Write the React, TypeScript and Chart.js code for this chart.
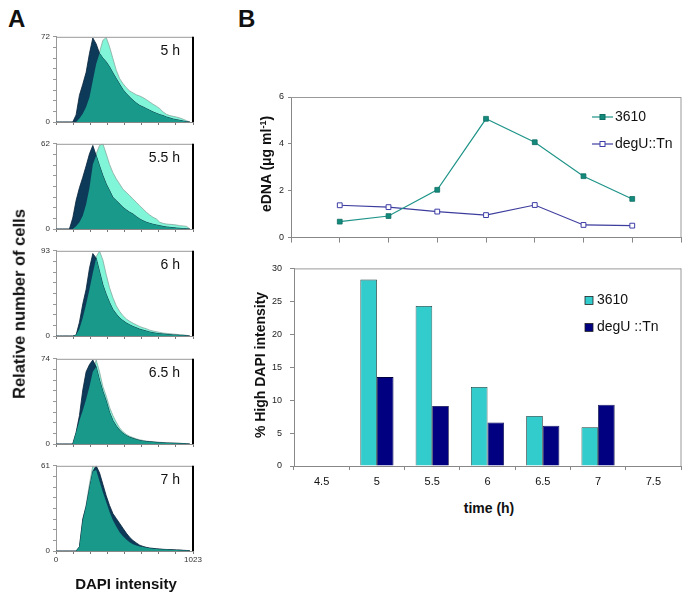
import React, { useEffect, useRef } from "react";
import { Chart, registerables } from "chart.js";

Chart.register(...registerables);

const FONT = "'Liberation Sans', Arial, Helvetica, sans-serif";
Chart.defaults.font.family = FONT;

// ---------- Panel A: DAPI histograms ----------
const dapiBins = [
  0, 25, 50, 75, 100, 125, 150, 175, 200, 225, 250, 275, 300, 325, 350, 375, 400, 425, 450, 475,
  500, 525, 550, 575, 600, 625, 650, 675, 700, 725, 750, 775, 800, 825, 850, 875, 900, 925, 950, 975, 1000,
];
const dapiTicks = [0, 128, 256, 384, 512, 640, 768, 896, 1023];
const histTimes = ["5 h", "5.5 h", "6 h", "6.5 h", "7 h"];
const histMax = [72, 62, 93, 74, 61];

const dark5 = [0, 0, 0, 0, 0, 0, 6, 22.6, 32, 42, 58, 71, 66, 58, 54, 50.8, 46.6, 41.5, 36.7, 32, 27.4, 24, 21, 18.4, 16, 14, 12.7, 11.3, 9.9, 8.5, 7.3, 6.2, 5.4, 4.2, 3.4, 2.5, 2, 1.4, 0.8, 0.3, 0];
const light5 = [0, 0, 0, 0, 0, 0, 0, 3, 7, 12.7, 21, 35, 49, 59, 69, 71.5, 63.5, 53.6, 43.8, 36.7, 32.5, 29, 26.3, 24.6, 23, 22, 20.6, 18.9, 17, 15, 13.3, 11.3, 8.5, 6.5, 5.4, 4.8, 4.2, 3.4, 2.3, 1.1, 0];

const dark55 = [0, 0, 0, 0, 0, 8, 20.7, 30, 37.7, 46, 54.7, 60.8, 53.5, 46, 39, 32.8, 28, 23, 20.7, 18.2, 15.8, 13.9, 12.2, 10.9, 9, 7.3, 6, 4.9, 4.1, 3.4, 2.9, 2.4, 1.9, 1.5, 1.2, 1, 0.7, 0.5, 0.3, 0.2, 0];
const light55 = [0, 0, 0, 0, 0, 0, 2, 4.9, 9.7, 18, 30, 47, 54.7, 60.8, 62, 54.7, 47, 41, 36.5, 32.8, 29, 26.7, 24.3, 21.9, 19.4, 17, 14.6, 12.2, 10.2, 8.5, 7.3, 4.9, 4.1, 3.6, 3.4, 3.2, 2.9, 2.4, 2.2, 1.9, 0];

const dark6 = [0, 0, 0, 0, 0, 0, 1, 15, 35, 51, 74, 90, 85, 70.5, 56, 45.5, 36.5, 29, 24, 19.7, 16.8, 14.3, 12.2, 10.4, 9, 7.5, 6.4, 5.4, 4.3, 3.6, 2.9, 2.5, 2.1, 1.8, 1.4, 1.1, 1.1, 0.7, 0.7, 0.4, 0];
const light6 = [0, 0, 0, 0, 0, 0, 1, 7.9, 20, 34.7, 51, 68.7, 86.6, 92.7, 83, 67, 52.6, 41.9, 33, 26.9, 22.2, 18.6, 16.1, 14, 12.2, 10.4, 9, 7.9, 6.4, 5.4, 4.7, 3.9, 3.2, 2.9, 2.5, 2.1, 1.8, 1.4, 1.1, 0.7, 0];

const dark65 = [0, 0, 0, 0, 0, 0, 10, 24.7, 47, 62.7, 69, 73, 67, 55.6, 45.8, 37.4, 27.5, 20.5, 15.7, 12, 9.3, 7.3, 5.9, 4.8, 3.9, 3.1, 2.5, 2.2, 2, 1.7, 1.4, 1.2, 1, 0.9, 0.8, 0.7, 0.6, 0.5, 0.4, 0.2, 0];
const light65 = [0, 0, 0, 0, 0, 0, 10, 20.5, 29, 38.8, 50, 62.7, 73, 62.7, 50, 41.6, 31.8, 24.7, 19, 14, 10.7, 8.4, 6.7, 5.6, 4.5, 3.7, 3.1, 2.5, 2.2, 2, 1.7, 1.5, 1.3, 1.1, 1, 0.9, 0.8, 0.6, 0.5, 0.3, 0];

const dark7 = [0, 0, 0, 0, 0, 0, 0, 3, 23, 32, 45, 57, 61, 56, 47.8, 39.6, 32.6, 26.8, 23.3, 19.8, 16.3, 12.8, 9.8, 7.5, 5.8, 4.2, 3.3, 2.6, 2.1, 1.9, 1.6, 1.4, 1.2, 1.1, 1, 0.9, 0.8, 0.7, 0.5, 0.4, 0.2];
const light7 = [0, 0, 0, 0, 0, 0, 0, 3, 22, 33, 48, 61, 58, 50, 42, 35, 28, 22, 17.5, 13.5, 10.5, 8.2, 6.3, 4.9, 4, 3.3, 2.8, 2.3, 2, 1.7, 1.5, 1.3, 1.1, 1, 0.9, 0.8, 0.7, 0.6, 0.4, 0.3, 0];

const histDark = [dark5, dark55, dark6, dark65, dark7];
const histLight = [light5, light55, light6, light65, light7];

// ---------- Panel B ----------
const timeCats = ["4.5", "5", "5.5", "6", "6.5", "7", "7.5"];
const timeVals = [4.5, 5, 5.5, 6, 6.5, 7, 7.5];
const seriesNames = ["3610", "degU::Tn"];
const barNames = ["3610", "degU ::Tn"];
const edna3610 = [0.68, 0.92, 2.04, 5.07, 4.07, 2.62, 1.65];
const ednaDegU = [1.38, 1.3, 1.11, 0.96, 1.39, 0.54, 0.51];
const high3610 = [null, 28.3, 24.3, 12.0, 7.6, 5.9, null];
const highDegU = [null, 13.5, 9.1, 6.6, 6.1, 9.3, null];

// ---------- layout constants ----------
const PANEL_TOPS = [35, 142, 249, 357, 464];
const PANEL_H = 87;

const NAVY = "#0e3a5a";
const TEAL = "#18998a";
const AQUA = "#80f5d8";

const framePlugin = (topColor: string, rightColor: string, rightWidth: number) => ({
  id: "frame",
  afterDatasetsDraw(chart: any) {
    const { ctx, chartArea: a } = chart;
    ctx.save();
    ctx.strokeStyle = topColor;
    ctx.lineWidth = 1;
    ctx.beginPath();
    ctx.moveTo(a.left, a.top + 0.5);
    ctx.lineTo(a.right, a.top + 0.5);
    ctx.stroke();
    ctx.strokeStyle = rightColor;
    ctx.lineWidth = rightWidth;
    ctx.beginPath();
    ctx.moveTo(a.right, a.top);
    ctx.lineTo(a.right, a.bottom);
    ctx.stroke();
    ctx.restore();
  },
});

function histConfig(i: number): any {
  const dark = histDark[i];
  const light = histLight[i];
  const both = light.map((v, j) => Math.min(v, dark[j]));
  const pts = (arr: number[]) => dapiBins.map((x, j) => ({ x, y: arr[j] }));
  const max = histMax[i];
  const last = i === histDark.length - 1;
  const common = { fill: "origin", pointRadius: 0, tension: 0 };
  return {
    type: "line",
    data: {
      datasets: [
        { ...common, data: pts(both), backgroundColor: TEAL, borderColor: TEAL, borderWidth: 0, order: 1 },
        { ...common, data: pts(dark), backgroundColor: NAVY, borderColor: "#08233a", borderWidth: 0.8, order: 2 },
        { ...common, data: pts(light), backgroundColor: AQUA, borderColor: "#8aa8a0", borderWidth: 0.8, order: 3 },
      ],
    },
    options: {
      responsive: false,
      animation: false,
      events: [],
      layout: { padding: { top: 6, right: 12, left: 0, bottom: 0 } },
      plugins: { legend: { display: false }, tooltip: { enabled: false } },
      scales: {
        x: {
          type: "linear",
          min: 0,
          max: 1023,
          afterBuildTicks: (s: any) => {
            s.ticks = dapiTicks.map((v) => ({ value: v }));
          },
          ticks: {
            display: last,
            autoSkip: false,
            maxRotation: 0,
            font: { size: 8 },
            color: "#333",
            padding: 1,
            callback: (v: number) => (v === 0 || v === 1023 ? String(v) : ""),
          },
          grid: { drawOnChartArea: false, tickLength: 3, color: "#777" },
          border: { color: "#888" },
          afterFit: (s: any) => {
            s.height = 18;
          },
        },
        y: {
          min: 0,
          max,
          afterBuildTicks: (s: any) => {
            s.ticks = [0, 1, 2, 3, 4, 5, 6, 7, 8].map((k) => ({ value: (max * k) / 8 }));
          },
          ticks: {
            autoSkip: false,
            font: { size: 8 },
            color: "#333",
            padding: 3,
            callback: (v: number, idx: number) => (idx === 0 || idx === 8 ? String(Math.round(v)) : ""),
          },
          grid: { drawOnChartArea: false, tickLength: 3, color: "#999" },
          border: { color: "#999" },
          afterFit: (s: any) => {
            s.width = 30;
          },
        },
      },
    },
    plugins: [framePlugin("#999", "#000", 2)],
  };
}

const lineLegendPlugin = {
  id: "lineLegend",
  afterDraw(chart: any) {
    const { ctx, chartArea: a } = chart;
    ctx.save();
    chart.data.datasets.forEach((ds: any, i: number) => {
      const y = a.top + 20 + i * 27;
      const x0 = a.right - 89;
      ctx.strokeStyle = ds.borderColor;
      ctx.lineWidth = 1.2;
      ctx.beginPath();
      ctx.moveTo(x0, y);
      ctx.lineTo(x0 + 21, y);
      ctx.stroke();
      ctx.fillStyle = ds.pointBackgroundColor;
      ctx.strokeStyle = ds.pointBorderColor;
      ctx.lineWidth = 1;
      ctx.fillRect(x0 + 8, y - 2.5, 5, 5);
      ctx.strokeRect(x0 + 8, y - 2.5, 5, 5);
      ctx.fillStyle = "#111";
      ctx.font = `14px ${FONT}`;
      ctx.textBaseline = "middle";
      ctx.textAlign = "left";
      ctx.fillText(ds.label, x0 + 23, y);
    });
    ctx.restore();
  },
};

const barLegendPlugin = {
  id: "barLegend",
  afterDraw(chart: any) {
    const { ctx, chartArea: a } = chart;
    ctx.save();
    chart.data.datasets.forEach((ds: any, i: number) => {
      const y = a.top + 32 + i * 27;
      const x0 = a.right - 96;
      ctx.fillStyle = ds.backgroundColor;
      ctx.strokeStyle = "#222";
      ctx.lineWidth = 0.8;
      ctx.fillRect(x0, y - 4, 8, 8);
      ctx.strokeRect(x0, y - 4, 8, 8);
      ctx.fillStyle = "#111";
      ctx.font = `14px ${FONT}`;
      ctx.textBaseline = "middle";
      ctx.textAlign = "left";
      ctx.fillText(ds.label, x0 + 12, y);
    });
    ctx.restore();
  },
};

function lineConfig(): any {
  return {
    type: "line",
    data: {
      datasets: [
        {
          label: seriesNames[0],
          data: timeVals.map((x, i) => ({ x, y: edna3610[i] })),
          borderColor: "#1f9488",
          borderWidth: 1.2,
          pointStyle: "rect",
          pointRadius: 3.4,
          pointBackgroundColor: "#138a7c",
          pointBorderColor: "#0f6f63",
          pointBorderWidth: 0.8,
          tension: 0,
        },
        {
          label: seriesNames[1],
          data: timeVals.map((x, i) => ({ x, y: ednaDegU[i] })),
          borderColor: "#3d3d9e",
          borderWidth: 1.2,
          pointStyle: "rect",
          pointRadius: 3.4,
          pointBackgroundColor: "#ffffff",
          pointBorderColor: "#3d3da6",
          pointBorderWidth: 1,
          tension: 0,
        },
      ],
    },
    options: {
      responsive: false,
      animation: false,
      events: [],
      layout: { padding: { top: 10, right: 5, left: 0, bottom: 0 } },
      plugins: { legend: { display: false }, tooltip: { enabled: false } },
      scales: {
        x: {
          type: "linear",
          min: 4,
          max: 8,
          ticks: { stepSize: 0.5, display: false },
          grid: { drawOnChartArea: false, tickLength: 5, color: "#888" },
          border: { color: "#888" },
          afterFit: (s: any) => {
            s.height = 8;
          },
        },
        y: {
          min: 0,
          max: 6,
          ticks: { stepSize: 2, font: { size: 9 }, color: "#222", padding: 4 },
          grid: { drawOnChartArea: false, tickLength: 3, color: "#888" },
          border: { color: "#888" },
          afterFit: (s: any) => {
            s.width = 51;
          },
        },
      },
    },
    plugins: [framePlugin("#999", "#999", 1), lineLegendPlugin],
  };
}

function barConfig(): any {
  return {
    type: "bar",
    data: {
      labels: timeCats,
      datasets: [
        {
          label: barNames[0],
          data: high3610,
          backgroundColor: "#33cccc",
          borderColor: "#1c3a3a",
          borderWidth: 0.8,
          categoryPercentage: 0.6,
          barPercentage: 1,
        },
        {
          label: barNames[1],
          data: highDegU,
          backgroundColor: "#000080",
          borderColor: "#000040",
          borderWidth: 0.8,
          categoryPercentage: 0.6,
          barPercentage: 1,
        },
      ],
    },
    options: {
      responsive: false,
      animation: false,
      events: [],
      layout: { padding: { top: 10, right: 5, left: 0, bottom: 0 } },
      plugins: { legend: { display: false }, tooltip: { enabled: false } },
      scales: {
        x: {
          ticks: { font: { size: 11 }, color: "#111", padding: 5, maxRotation: 0 },
          grid: { drawOnChartArea: false, tickLength: 4, color: "#888", offset: true },
          border: { color: "#888" },
          afterFit: (s: any) => {
            s.height = 24;
          },
        },
        y: {
          min: 0,
          max: 30,
          ticks: { stepSize: 5, font: { size: 9 }, color: "#222", padding: 8 },
          grid: { drawOnChartArea: false, tickLength: 4, color: "#888" },
          border: { color: "#888" },
          afterFit: (s: any) => {
            s.width = 54;
          },
        },
      },
    },
    plugins: [framePlugin("#999", "#999", 1), barLegendPlugin],
  };
}

function ChartCanvas(props: { left: number; top: number; width: number; height: number; make: () => any }) {
  const ref = useRef<HTMLCanvasElement>(null);
  useEffect(() => {
    const chart = new Chart(ref.current as HTMLCanvasElement, props.make());
    return () => chart.destroy();
  }, []);
  return (
    <canvas
      ref={ref}
      width={props.width}
      height={props.height}
      style={{ position: "absolute", left: props.left, top: props.top, width: props.width, height: props.height }}
    />
  );
}

const base: React.CSSProperties = {
  position: "absolute",
  fontFamily: FONT,
  color: "#111",
  whiteSpace: "nowrap",
};

function Rotated(props: { cx: number; cy: number; size: number; children: React.ReactNode }) {
  return (
    <div
      style={{
        ...base,
        left: props.cx,
        top: props.cy,
        fontSize: props.size,
        fontWeight: "bold",
        lineHeight: 1,
        transform: "translate(-50%, -50%) rotate(-90deg)",
      }}
    >
      {props.children}
    </div>
  );
}

export default function App() {
  return (
    <div style={{ position: "absolute", left: 0, top: 0, width: 686, height: 594, background: "#fff", overflow: "hidden" }}>
      <div style={{ ...base, left: 8, top: 7, fontSize: 24, fontWeight: "bold", lineHeight: "24px" }}>A</div>
      <div style={{ ...base, left: 238, top: 7, fontSize: 24, fontWeight: "bold", lineHeight: "24px" }}>B</div>

      {PANEL_TOPS.map((t, i) => (
        <ChartCanvas key={"h" + i} left={26} top={t - 6} width={179} height={6 + PANEL_H + 18} make={() => histConfig(i)} />
      ))}
      {PANEL_TOPS.map((t, i) => (
        <div
          key={"l" + i}
          style={{ ...base, left: 110, width: 70, top: t + 8, fontSize: 14, lineHeight: "14px", textAlign: "right" }}
        >
          {histTimes[i]}
        </div>
      ))}

      <Rotated cx={19} cy={304} size={16.5}>
        Relative number of cells
      </Rotated>
      <div style={{ ...base, left: 126, top: 583, fontSize: 15, fontWeight: "bold", lineHeight: 1, transform: "translate(-50%, -50%)" }}>
        DAPI intensity
      </div>

      <ChartCanvas left={240} top={87} width={446} height={160} make={lineConfig} />
      <ChartCanvas left={240} top={255} width={446} height={235} make={barConfig} />

      <Rotated cx={266} cy={164} size={14}>
        eDNA (μg ml<sup style={{ fontSize: 9 }}>-1</sup>)
      </Rotated>
      <Rotated cx={260} cy={365} size={14}>
        % High DAPI intensity
      </Rotated>
      <div style={{ ...base, left: 489, top: 508, fontSize: 14, fontWeight: "bold", lineHeight: 1, transform: "translate(-50%, -50%)" }}>
        time (h)
      </div>
    </div>
  );
}
